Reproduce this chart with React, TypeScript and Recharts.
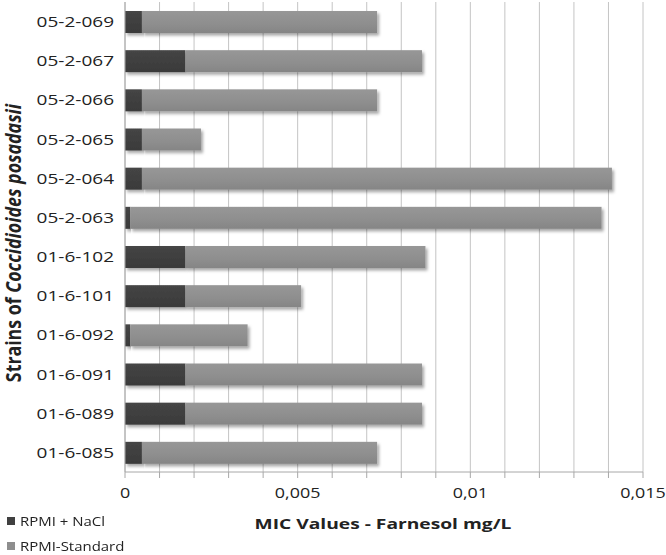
import React from 'react';
import { BarChart, Bar, XAxis, YAxis, CartesianGrid } from 'recharts';

const categories = ['05-2-069', '05-2-067', '05-2-066', '05-2-065', '05-2-064', '05-2-063', '01-6-102', '01-6-101', '01-6-092', '01-6-091', '01-6-089', '01-6-085'];
const naclValues = [0.00049, 0.00175, 0.00049, 0.00049, 0.00049, 0.00015, 0.00175, 0.00175, 0.00015, 0.00175, 0.00175, 0.00049];
const standardValues = [0.00681, 0.00685, 0.00681, 0.00171, 0.01361, 0.01365, 0.00695, 0.00335, 0.0034, 0.00685, 0.00685, 0.00681];
const xTicks = [0, 0.001, 0.002, 0.003, 0.004, 0.005, 0.006, 0.007, 0.008, 0.009, 0.01, 0.011, 0.012, 0.013, 0.014, 0.015];
const xTickLabels: Record<string, string> = { '0': '0', '5': '0,005', '10': '0,01', '15': '0,015' };
const seriesNames = ['RPMI + NaCl', 'RPMI-Standard'];

const data = categories.map((name, i) => ({ name, nacl: naclValues[i], standard: standardValues[i] }));

const FONT = '"Open Sans", "Liberation Sans", sans-serif';
const SX = 1.33;

const YTick = (props: any) => {
  const { x, y, payload } = props;
  return (
    <text transform={`translate(${x},${y}) scale(${SX},1)`} x={0} y={0} textAnchor="end" dominantBaseline="central"
      fontFamily={FONT} fontSize={14.3} fill="#222">{payload.value}</text>
  );
};

const XTick = (props: any) => {
  const { x, y, payload } = props;
  const key = String(Math.round(payload.value * 1000));
  const label = xTickLabels[key];
  if (label === undefined) return <g />;
  return (
    <text transform={`translate(${x},${y}) scale(1.28,1)`} x={0} y={0} textAnchor="middle" dominantBaseline="central"
      fontFamily={FONT} fontSize={14} fill="#222">{label}</text>
  );
};

const shapeWith = (fill: string) => (props: any) => {
  const { x, y, width, height } = props;
  if (!width || width <= 0) return <g />;
  return <rect x={x} y={y} width={width} height={height} fill={fill} filter="url(#barShadow)" />;
};

export default function App() {
  return (
    <div style={{ position: 'absolute', left: 0, top: 0, width: 666, height: 555, background: '#fff', fontFamily: FONT }}>
      <svg width={0} height={0} style={{ position: 'absolute' }}>
        <defs>
          <filter id="barShadow" x="-5%" y="-30%" width="115%" height="180%">
            <feDropShadow dx={2} dy={2.5} stdDeviation={1.6} floodColor="#000" floodOpacity={0.35} />
          </filter>
          <linearGradient id="grayGrad" x1="0" y1="0" x2="0" y2="1">
            <stop offset="0%" stopColor="#979797" />
            <stop offset="60%" stopColor="#8e8e8e" />
            <stop offset="100%" stopColor="#858585" />
          </linearGradient>
          <linearGradient id="darkGrad" x1="0" y1="0" x2="0" y2="1">
            <stop offset="0%" stopColor="#454545" />
            <stop offset="100%" stopColor="#3a3a3a" />
          </linearGradient>
        </defs>
      </svg>
      <BarChart width={666} height={555} data={data} layout="vertical"
        margin={{ top: 2, right: 23, left: 0, bottom: 53 }} barSize={22}>
        <CartesianGrid horizontal={false} vertical={true} stroke="#c4c4c4" />
        <XAxis type="number" domain={[0, 0.015]} ticks={xTicks} interval={0} tickSize={6} height={30}
          stroke="#a8a8a8" tick={<XTick />} tickMargin={15} allowDataOverflow />
        <YAxis type="category" dataKey="name" width={125} tickLine={false} stroke="#a8a8a8" tick={<YTick />} tickMargin={5} />
        <Bar dataKey="nacl" name={seriesNames[0]} stackId="a" fill="#404040" shape={shapeWith('url(#darkGrad)')} isAnimationActive={false} />
        <Bar dataKey="standard" name={seriesNames[1]} stackId="a" fill="#8e8e8e" shape={shapeWith('url(#grayGrad)')} isAnimationActive={false} />
      </BarChart>
      <div style={{ position: 'absolute', left: 383, top: 523, transform: 'translate(-50%,-50%) scaleX(1.28)', whiteSpace: 'nowrap', fontWeight: 700, fontSize: 15, lineHeight: 1, color: '#222' }}>
        MIC Values - Farnesol mg/L
      </div>
      <div style={{ position: 'absolute', left: 14, top: 243, transform: 'translate(-50%,-50%) scaleX(1.15) rotate(-90deg)', whiteSpace: 'nowrap', fontWeight: 700, fontSize: 17.8, lineHeight: 1, color: '#222' }}>
        Strains of <i>Coccidioides posadasii</i>
      </div>
      {seriesNames.map((n, i) => (
        <div key={n} style={{ position: 'absolute', left: 7, top: 521 + i * 25, transform: 'translateY(-50%)', display: 'flex', alignItems: 'center', whiteSpace: 'nowrap' }}>
          <span style={{ display: 'inline-block', width: 8, height: 8, background: i === 0 ? '#404040' : '#8e8e8e', marginRight: 5 }} />
          <span style={{ display: 'inline-block', fontSize: 13, color: '#222', transform: 'scaleX(1.15)', transformOrigin: 'left center' }}>{n}</span>
        </div>
      ))}
    </div>
  );
}
